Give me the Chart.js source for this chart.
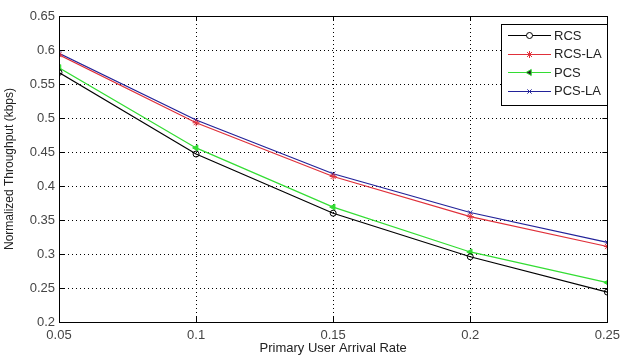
<!DOCTYPE html>
<html>
<head>
<meta charset="utf-8">
<script src="https://cdn.jsdelivr.net/npm/chart.js@4"></script>
<style>
  html, body { margin: 0; padding: 0; background: #fff; }
  #wrap { width: 626px; height: 356px; }
</style>
</head>
<body>
<div id="wrap"><canvas id="myChart" width="626" height="356"></canvas></div>
<script>
// données
const rates = [0.05, 0.1, 0.15, 0.2, 0.25];
const rcs = [0.567, 0.447, 0.360, 0.296, 0.244];
const rcsLa = [0.593, 0.493, 0.414, 0.355, 0.311];
const pcs = [0.574, 0.456, 0.369, 0.303, 0.258];
const pcsLa = [0.595, 0.497, 0.418, 0.361, 0.317];
const xTicks = ['0.05', '0.1', '0.15', '0.2', '0.25'];

const toPoints = (ys) => ys.map((y, i) => ({ x: rates[i], y: y }));
const police = '"Liberation Sans", Arial, sans-serif';

// cadre complet + légende façon matlab
const matlabBox = {
    id: 'matlabBox',
    afterDraw(chart) {
        const c = chart.ctx;
        const a = chart.chartArea;
        c.save();
        c.strokeStyle = '#000';
        c.lineWidth = 1;
        c.setLineDash([]);
        c.strokeRect(Math.round(a.left) + 0.5, Math.round(a.top) + 0.5,
            Math.round(a.right - a.left), Math.round(a.bottom - a.top));

        // petites graduations vers l'intérieur
        const xs = chart.scales.x, ys = chart.scales.y;
        c.beginPath();
        xs.ticks.forEach(t => {
            const px = Math.round(xs.getPixelForValue(t.value)) + 0.5;
            c.moveTo(px, a.bottom); c.lineTo(px, a.bottom - 5);
            c.moveTo(px, a.top); c.lineTo(px, a.top + 5);
        });
        ys.ticks.forEach(t => {
            const py = Math.round(ys.getPixelForValue(t.value)) + 0.5;
            c.moveTo(a.left, py); c.lineTo(a.left + 5, py);
            c.moveTo(a.right, py); c.lineTo(a.right - 5, py);
        });
        c.stroke();

        // légende
        const bx = 501, by = 24, bw = 106, bh = 81;
        c.fillStyle = '#fff';
        c.fillRect(bx, by, bw, bh);
        c.strokeRect(bx + 0.5, by + 0.5, bw, bh);
        c.font = '13px ' + police;
        c.textBaseline = 'middle';
        chart.data.datasets.forEach((ds, i) => {
            const ly = by + 11 + i * 18.5;
            c.strokeStyle = ds.borderColor;
            c.beginPath();
            c.moveTo(bx + 7, Math.round(ly) + 0.5);
            c.lineTo(bx + 50, Math.round(ly) + 0.5);
            c.stroke();
            Chart.helpers.drawPoint(c, {
                pointStyle: ds.pointStyle,
                radius: ds.pointRadius,
                rotation: ds.pointRotation || 0,
                borderWidth: 1
            }, bx + 28.5, Math.round(ly) + 0.5);
            c.fillStyle = '#222';
            c.fillText(ds.label, bx + 53, ly + 1);
        });
        c.restore();
    }
};

function serie(label, data, color, style, radius, rot) {
    return {
        label: label,
        data: toPoints(data),
        borderColor: color,
        backgroundColor: style === 'circle' ? 'rgba(0,0,0,0)' : color,
        pointBorderColor: color,
        pointBackgroundColor: style === 'circle' ? 'rgba(0,0,0,0)' : color,
        borderWidth: 1.2,
        pointRadius: radius,
        pointBorderWidth: 1,
        pointStyle: style,
        pointRotation: rot || 0,
        fill: false,
        tension: 0
    };
}

new Chart(document.getElementById('myChart'), {
    type: 'line',
    data: {
        datasets: [
            serie('RCS', rcs, '#000000', 'circle', 3),
            serie('RCS-LA', rcsLa, '#e0303a', 'star', 3.5),
            serie('PCS', pcs, '#33dd33', 'triangle', 3.5, -90),
            serie('PCS-LA', pcsLa, '#222299', 'crossRot', 3)
        ]
    },
    plugins: [matlabBox],
    options: {
        responsive: false,
        animation: false,
        layout: { padding: { top: 16, right: 13, left: 0, bottom: 0 } },
        plugins: {
            legend: { display: false },
            tooltip: { enabled: false }
        },
        scales: {
            x: {
                type: 'linear',
                min: 0.05,
                max: 0.25,
                afterBuildTicks: (s) => { s.ticks = rates.map(v => ({ value: v })); },
                afterFit: (s) => { s.height = 34; },
                ticks: {
                    callback: (v, i) => xTicks[i],
                    color: '#444',
                    font: { family: police, size: 13 },
                    padding: 6,
                    maxRotation: 0
                },
                grid: { color: '#000', tickLength: 0, lineWidth: 1 },
                border: { display: true, color: '#000', dash: [1, 3] },
                title: {
                    display: true,
                    text: 'Primary User Arrival Rate',
                    color: '#222',
                    font: { family: police, size: 13 },
                    padding: { top: 0, bottom: 0 }
                }
            },
            y: {
                min: 0.2,
                max: 0.65,
                afterFit: (s) => { s.width = 59; },
                ticks: {
                    stepSize: 0.05,
                    color: '#444',
                    font: { family: police, size: 13 },
                    padding: 4,
                    callback: (v) => String(Math.round(v * 100) / 100)
                },
                grid: { color: '#000', tickLength: 0, lineWidth: 1 },
                border: { display: true, color: '#000', dash: [1, 3] },
                title: {
                    display: true,
                    text: 'Normalized Throughput (kbps)',
                    color: '#222',
                    font: { family: police, size: 12 },
                    padding: { top: 2, bottom: 0 }
                }
            }
        }
    }
});
</script>
</body>
</html>
